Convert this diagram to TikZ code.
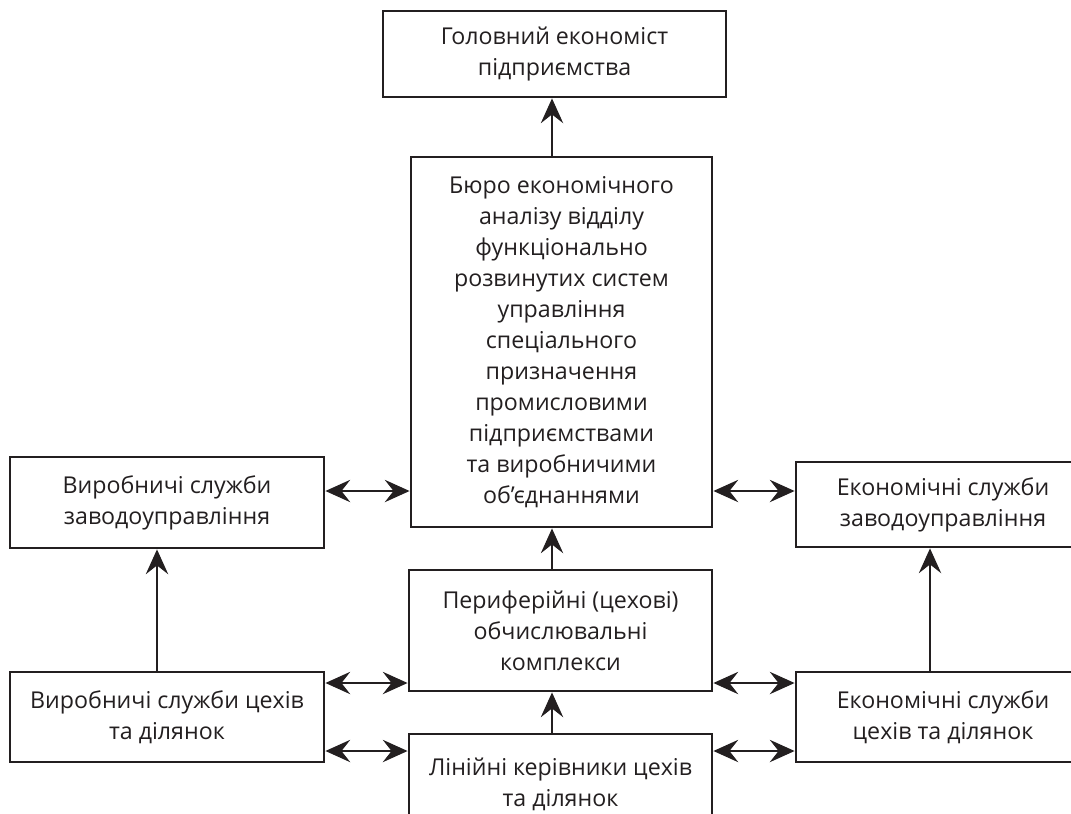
\documentclass[tikz,border=0pt]{standalone}
\usepackage{fontspec}
\setmainfont{Open Sans}
\usepackage{tikz}
\usetikzlibrary{arrows.meta,positioning,calc}
\usepackage{xcolor}
\definecolor{boxline}{RGB}{35,31,32}
\tikzstyle{unit} = [rectangle, draw=boxline, line width=2pt, align=center, text centered, inner sep=2pt, font=\fontsize{16.5}{22}\selectfont, text=boxline]
\tikzstyle{arrow} = [line width=0.8pt, draw=boxline, -{Stealth[length=6.2mm, width=5.6mm, inset=2.2mm]}]
\tikzstyle{biarrow} = [line width=0.8pt, draw=boxline, {Stealth[length=6.2mm, width=5.6mm, inset=2.2mm]}-{Stealth[length=6.2mm, width=5.6mm, inset=2.2mm]}]

\begin{document}
\begin{tikzpicture}[x=0.025cm, y=-0.025cm]
    \useasboundingbox[fill=white] (0,0) rectangle (1071,814);

    % Chief economist
    \node[unit, minimum width=8.575cm, minimum height=2.15cm] (chief) at (554.5, 54) {Головний економіст\\підприємства};

    % Bureau
    \node[unit, minimum width=7.525cm, minimum height=9.25cm] (bureau) at (561.5, 342) {Бюро економічного\\аналізу відділу\\функціонально\\розвинутих систем\\управління\\спеціального\\призначення\\промисловими\\підприємствами\\та виробничими\\об’єднаннями};

    % Computing complexes
    \node[unit, minimum width=7.575cm, minimum height=3.025cm] (periph) at (560.5, 630.5) {Периферійні (цехові)\\обчислювальні\\комплекси};

    % Line managers
    \node[unit, minimum width=7.575cm, minimum height=2.5cm] (linear) at (560.5, 784) {Лінійні керівники цехів\\та ділянок};

    % Production services
    \node[unit, minimum width=7.85cm, minimum height=2.275cm] (prodplant) at (167, 502.5) {Виробничі служби\\заводоуправління};
    \node[unit, minimum width=7.85cm, minimum height=2.25cm] (prodshop) at (167, 717) {Виробничі служби цехів\\та ділянок};

    % Economic services
    \node[unit, minimum width=7.35cm, minimum height=2.125cm] (econplant) at (943, 504.5) {Економічні служби\\заводоуправління};
    \node[unit, minimum width=7.35cm, minimum height=2.25cm] (econshop) at (943, 717) {Економічні служби\\цехів та ділянок};

    % Rows of the side arrows
    \coordinate (rowa) at (0, 491);
    \coordinate (rowb) at (0, 683);
    \coordinate (rowc) at (0, 751);
    \coordinate (cola) at (552, 0);
    \coordinate (colb) at (157, 0);
    \coordinate (colc) at (930, 0);

    % Arrows up
    \draw[arrow] (bureau.north -| cola) -- (chief.south -| cola);
    \draw[arrow] (periph.north -| cola) -- (bureau.south -| cola);
    \draw[arrow] (linear.north -| cola) -- (periph.south -| cola);
    \draw[arrow] (prodshop.north -| colb) -- (prodplant.south -| colb);
    \draw[arrow] (econshop.north -| colc) -- (econplant.south -| colc);

    % Two-way arrows
    \draw[biarrow] (prodplant.east |- rowa) -- (bureau.west |- rowa);
    \draw[biarrow] (bureau.east |- rowa) -- (econplant.west |- rowa);
    \draw[biarrow] (prodshop.east |- rowb) -- (periph.west |- rowb);
    \draw[biarrow] (periph.east |- rowb) -- (econshop.west |- rowb);
    \draw[biarrow] (prodshop.east |- rowc) -- (linear.west |- rowc);
    \draw[biarrow] (linear.east |- rowc) -- (econshop.west |- rowc);
\end{tikzpicture}
\end{document}
